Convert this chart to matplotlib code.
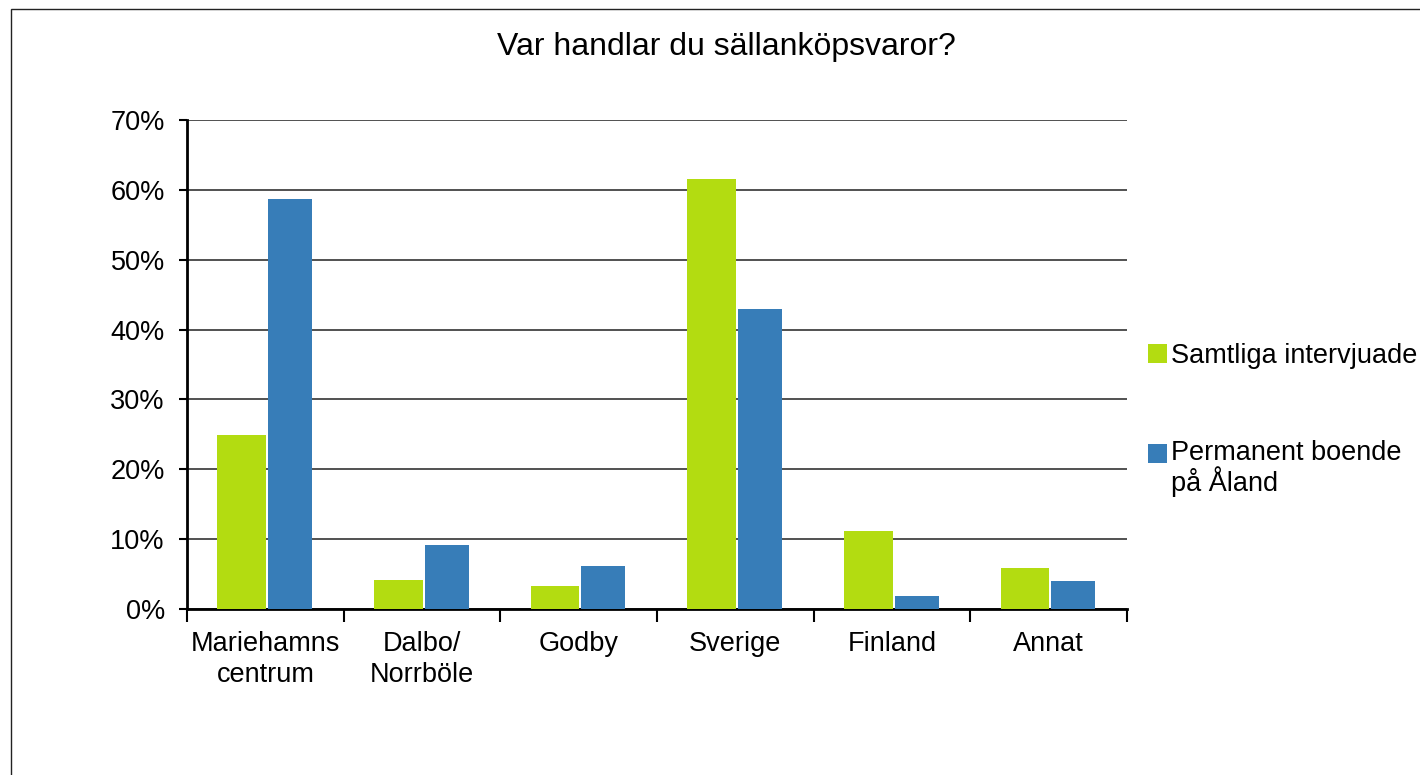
import matplotlib.pyplot as plt
import numpy as np
from matplotlib.patches import Rectangle
from matplotlib.container import BarContainer
from matplotlib.legend_handler import HandlerPatch, update_from_first_child

categories = ["Mariehamns\ncentrum", "Dalbo/\nNorrböle", "Godby", "Sverige", "Finland", "Annat"]
samtliga = [24.9, 4.2, 3.3, 61.6, 11.2, 5.9]
permanent = [58.7, 9.2, 6.2, 42.9, 1.9, 4.0]
series_names = ["Samtliga intervjuade", "Permanent boende\npå Åland"]
yticks = [0, 10, 20, 30, 40, 50, 60, 70]
title = "Var handlar du sällanköpsvaror?"

plt.rcParams['font.family'] = ['Liberation Sans', 'DejaVu Sans']
fs = 19.5


# legend square sits next to the first line of a multi-line label
def top_square(legend, orig_handle, xdescent, ydescent, width, height, fontsize):
    n = orig_handle.get_label().count("\n")
    shift = n * 0.55 * fontsize
    return Rectangle((-xdescent, -ydescent + shift), width, height)


fig = plt.figure(figsize=(14.2, 7.75), dpi=100)
ax = fig.add_axes([187 / 1420, 1 - 609 / 775, 940 / 1420, 489 / 775])

x = np.arange(len(categories))
ax.bar(x - 0.151, samtliga, 0.31, color='#b3dc11', label=series_names[0], zorder=3)
ax.bar(x + 0.157, permanent, 0.28, color='#377db8', label=series_names[1], zorder=3)

ax.set_xlim(-0.5, len(categories) - 0.5)
ax.set_ylim(0, 70)
ax.set_yticks(yticks)
ax.set_yticklabels([f"{v}%" for v in yticks])
ax.set_xticks(x)
ax.set_xticklabels(categories, linespacing=1.22)
ax.set_xticks(np.arange(-0.5, len(categories)), minor=True)

ax.yaxis.grid(True, color='#333333', lw=1.2)
ax.set_axisbelow(True)
for s in ['top', 'right']:
    ax.spines[s].set_visible(False)
for s in ['left', 'bottom']:
    ax.spines[s].set_linewidth(2)
    ax.spines[s].set_color('black')

ax.tick_params(axis='y', length=6, width=1.5, direction='out', labelsize=fs, pad=10)
ax.tick_params(axis='x', which='major', length=0, labelsize=fs, pad=16)
ax.tick_params(axis='x', which='minor', length=9, width=1.5, direction='out')

fig.text(726 / 1420, 1 - 47 / 775, title, ha='center', va='center', fontsize=23)

leg = fig.legend(loc='center left', bbox_to_anchor=(1148 / 1420, 1 - 420 / 775),
                 frameon=False, fontsize=fs, handlelength=0.7, handleheight=0.7,
                 handletextpad=0.15, labelspacing=2.6, borderpad=0, borderaxespad=0,
                 handler_map={BarContainer: HandlerPatch(patch_func=top_square,
                                                         update_func=update_from_first_child)})
for t in leg.get_texts():
    t.set_linespacing(1.0)

fig.patches.append(Rectangle((11 / 1420, -0.1), 1.2, 1.1 - 9 / 775, transform=fig.transFigure,
                             fill=False, ec='#222222', lw=1))

fig.savefig("out.png", dpi=100)
